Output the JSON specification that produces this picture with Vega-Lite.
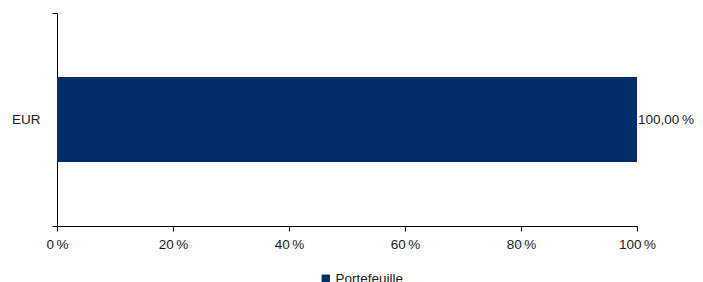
{
  "$schema": "https://vega.github.io/schema/vega-lite/v6.json",
  "width": 580,
  "height": 213,
  "padding": {"left": 7, "top": 6, "right": 0, "bottom": 0},
  "background": "white",
  "config": {
    "view": {"stroke": null},
    "font": "Liberation Sans",
    "axis": {"labelFont": "Liberation Sans", "labelFontSize": 13.5, "labelColor": "#1a1a1a", "domainColor": "#000000", "tickColor": "#000000", "grid": false, "title": null}
  },
  "data": {"values": [{"devise": "EUR", "serie": "Portefeuille", "valeur": 100}]},
  "transform": [{"calculate": "replace(format(datum.valeur, '.2f'), '.', ',') + '\u202f%'", "as": "etiquette"}],
  "layer": [
    {
      "mark": {"type": "bar", "color": "#002d6a", "height": {"band": 0.4}},
      "encoding": {
        "y": {"field": "devise", "type": "nominal", "scale": {"paddingInner": 0, "paddingOuter": 0},
          "axis": {"tickBand": "extent", "tickSize": 5, "labelPadding": 12, "minExtent": 50, "maxExtent": 50}},
        "x": {"field": "valeur", "type": "quantitative", "scale": {"domain": [0, 100], "nice": false},
          "axis": {"values": [0, 20, 40, 60, 80, 100], "tickSize": 5, "labelPadding": 6, "labelFlush": false, "labelExpr": "format(datum.value, 'd') + '\u202f%'"}},
        "color": {"field": "serie", "type": "nominal", "scale": {"range": ["#002d6a"]},
          "legend": {"title": null, "orient": "none", "legendX": 262, "legendY": 259, "symbolType": "square", "symbolSize": 70, "labelFontSize": 13.5, "labelFont": "Liberation Sans", "labelColor": "#1a1a1a", "symbolOffset": 0, "labelOffset": 3}}
      }
    },
    {
      "mark": {"type": "text", "align": "left", "baseline": "middle", "dx": 1, "fontSize": 13.5, "font": "Liberation Sans", "color": "#1a1a1a"},
      "encoding": {
        "y": {"field": "devise", "type": "nominal"},
        "x": {"field": "valeur", "type": "quantitative"},
        "text": {"field": "etiquette", "type": "nominal"}
      }
    }
  ]
}
